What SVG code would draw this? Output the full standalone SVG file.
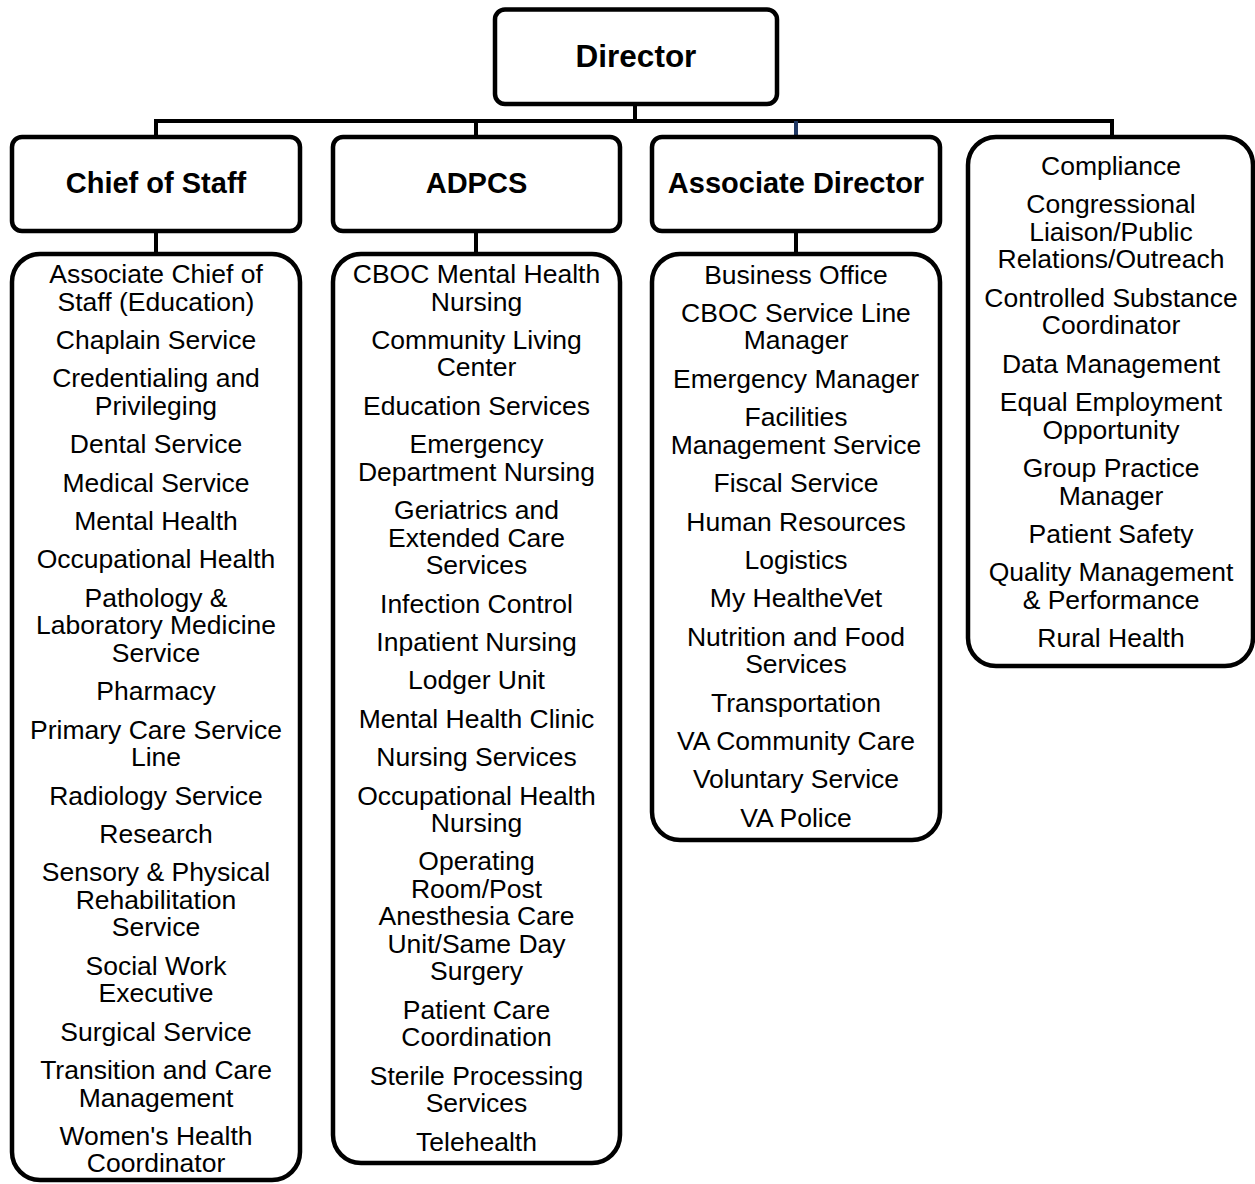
<svg xmlns="http://www.w3.org/2000/svg" width="1255" height="1184" viewBox="0 0 1255 1184">
<style>
.box{fill:#fff;stroke:#000;stroke-width:4.5}
.c{stroke:#000;stroke-width:4;fill:none}
.h{font-family:"Liberation Sans",Arial,sans-serif;font-weight:bold;font-size:29px;text-anchor:middle;fill:#000}
.t{font-family:"Liberation Sans",Arial,sans-serif;font-size:26.5px;text-anchor:middle;fill:#000}
</style>
<rect width="1255" height="1184" fill="#fff"/>
<g id="connectors">
<line class="c" x1="635" y1="104" x2="635" y2="121"/>
<line class="c" x1="154" y1="121" x2="1114" y2="121"/>
<line class="c" x1="156" y1="121" x2="156" y2="137"/>
<line class="c" x1="476" y1="121" x2="476" y2="137"/>
<line class="c" x1="796" y1="121" x2="796" y2="137" style="stroke:#203864"/>
<line class="c" x1="1112" y1="121" x2="1112" y2="137"/>
<line class="c" x1="156" y1="233" x2="156" y2="254"/>
<line class="c" x1="476" y1="233" x2="476" y2="254"/>
<line class="c" x1="796" y1="233" x2="796" y2="254"/>
</g>
<g id="director">
<rect class="box" x="495" y="9.5" width="282" height="94.5" rx="10"/>
<text class="h" x="636" y="67" style="font-size:31.5px">Director</text>
</g>
<g id="chief-of-staff">
<rect class="box" x="12" y="137" width="288" height="94" rx="10"/>
<text class="h" x="156" y="193">Chief of Staff</text>
</g>
<g id="adpcs">
<rect class="box" x="333" y="137" width="287" height="94" rx="10"/>
<text class="h" x="476.5" y="193">ADPCS</text>
</g>
<g id="associate-director">
<rect class="box" x="652" y="137" width="288" height="94" rx="10"/>
<text class="h" x="796" y="193">Associate Director</text>
</g>
<g id="director-staff">
<rect class="box" x="968" y="137" width="285" height="529" rx="28"/>
<text class="t" x="1111" y="175">Compliance</text>
<text class="t" x="1111" y="213.4">Congressional</text>
<text class="t" x="1111" y="240.9">Liaison/Public</text>
<text class="t" x="1111" y="268.4">Relations/Outreach</text>
<text class="t" x="1111" y="306.8">Controlled Substance</text>
<text class="t" x="1111" y="334.3">Coordinator</text>
<text class="t" x="1111" y="372.7">Data Management</text>
<text class="t" x="1111" y="411.1">Equal Employment</text>
<text class="t" x="1111" y="438.6">Opportunity</text>
<text class="t" x="1111" y="477">Group Practice</text>
<text class="t" x="1111" y="504.5">Manager</text>
<text class="t" x="1111" y="542.9">Patient Safety</text>
<text class="t" x="1111" y="581.3">Quality Management</text>
<text class="t" x="1111" y="608.8">&amp; Performance</text>
<text class="t" x="1111" y="647.2">Rural Health</text>
</g>
<g id="chief-of-staff-services">
<rect class="box" x="12" y="254" width="288" height="926" rx="28"/>
<text class="t" x="156" y="283">Associate Chief of</text>
<text class="t" x="156" y="310.5">Staff (Education)</text>
<text class="t" x="156" y="348.9">Chaplain Service</text>
<text class="t" x="156" y="387.3">Credentialing and</text>
<text class="t" x="156" y="414.8">Privileging</text>
<text class="t" x="156" y="453.2">Dental Service</text>
<text class="t" x="156" y="491.6">Medical Service</text>
<text class="t" x="156" y="530">Mental Health</text>
<text class="t" x="156" y="568.4">Occupational Health</text>
<text class="t" x="156" y="606.8">Pathology &amp;</text>
<text class="t" x="156" y="634.3">Laboratory Medicine</text>
<text class="t" x="156" y="661.8">Service</text>
<text class="t" x="156" y="700.2">Pharmacy</text>
<text class="t" x="156" y="738.6">Primary Care Service</text>
<text class="t" x="156" y="766.1">Line</text>
<text class="t" x="156" y="804.5">Radiology Service</text>
<text class="t" x="156" y="842.9">Research</text>
<text class="t" x="156" y="881.3">Sensory &amp; Physical</text>
<text class="t" x="156" y="908.8">Rehabilitation</text>
<text class="t" x="156" y="936.3">Service</text>
<text class="t" x="156" y="974.7">Social Work</text>
<text class="t" x="156" y="1002.2">Executive</text>
<text class="t" x="156" y="1040.6">Surgical Service</text>
<text class="t" x="156" y="1079">Transition and Care</text>
<text class="t" x="156" y="1106.5">Management</text>
<text class="t" x="156" y="1144.9">Women's Health</text>
<text class="t" x="156" y="1172.4">Coordinator</text>
</g>
<g id="adpcs-services">
<rect class="box" x="333" y="254" width="287" height="909" rx="28"/>
<text class="t" x="476.5" y="283">CBOC Mental Health</text>
<text class="t" x="476.5" y="310.5">Nursing</text>
<text class="t" x="476.5" y="348.9">Community Living</text>
<text class="t" x="476.5" y="376.4">Center</text>
<text class="t" x="476.5" y="414.8">Education Services</text>
<text class="t" x="476.5" y="453.2">Emergency</text>
<text class="t" x="476.5" y="480.7">Department Nursing</text>
<text class="t" x="476.5" y="519.1">Geriatrics and</text>
<text class="t" x="476.5" y="546.6">Extended Care</text>
<text class="t" x="476.5" y="574.1">Services</text>
<text class="t" x="476.5" y="612.5">Infection Control</text>
<text class="t" x="476.5" y="650.9">Inpatient Nursing</text>
<text class="t" x="476.5" y="689.3">Lodger Unit</text>
<text class="t" x="476.5" y="727.7">Mental Health Clinic</text>
<text class="t" x="476.5" y="766.1">Nursing Services</text>
<text class="t" x="476.5" y="804.5">Occupational Health</text>
<text class="t" x="476.5" y="832">Nursing</text>
<text class="t" x="476.5" y="870.4">Operating</text>
<text class="t" x="476.5" y="897.9">Room/Post</text>
<text class="t" x="476.5" y="925.4">Anesthesia Care</text>
<text class="t" x="476.5" y="952.9">Unit/Same Day</text>
<text class="t" x="476.5" y="980.4">Surgery</text>
<text class="t" x="476.5" y="1018.8">Patient Care</text>
<text class="t" x="476.5" y="1046.3">Coordination</text>
<text class="t" x="476.5" y="1084.7">Sterile Processing</text>
<text class="t" x="476.5" y="1112.2">Services</text>
<text class="t" x="476.5" y="1150.6">Telehealth</text>
</g>
<g id="associate-director-services">
<rect class="box" x="652" y="254" width="288" height="586" rx="28"/>
<text class="t" x="796" y="283.5">Business Office</text>
<text class="t" x="796" y="321.9">CBOC Service Line</text>
<text class="t" x="796" y="349.4">Manager</text>
<text class="t" x="796" y="387.8">Emergency Manager</text>
<text class="t" x="796" y="426.2">Facilities</text>
<text class="t" x="796" y="453.7">Management Service</text>
<text class="t" x="796" y="492.1">Fiscal Service</text>
<text class="t" x="796" y="530.5">Human Resources</text>
<text class="t" x="796" y="568.9">Logistics</text>
<text class="t" x="796" y="607.3">My HealtheVet</text>
<text class="t" x="796" y="645.7">Nutrition and Food</text>
<text class="t" x="796" y="673.2">Services</text>
<text class="t" x="796" y="711.6">Transportation</text>
<text class="t" x="796" y="750">VA Community Care</text>
<text class="t" x="796" y="788.4">Voluntary Service</text>
<text class="t" x="796" y="826.8">VA Police</text>
</g>
</svg>
